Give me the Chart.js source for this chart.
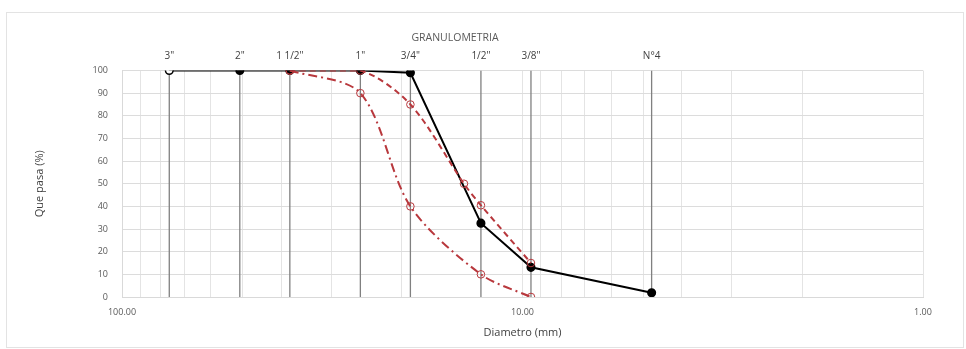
<!DOCTYPE html>
<html>
<head>
<meta charset="utf-8">
<script src="https://cdn.jsdelivr.net/npm/chart.js@4.4.1/dist/chart.umd.min.js"></script>
<style>
  html, body { margin: 0; padding: 0; background: #ffffff; }
  #wrap { position: relative; width: 966px; height: 349px; }
  #frame { position: absolute; left: 6px; top: 12px; width: 958px; height: 336px; border: 1px solid #e3e3e3; box-sizing: border-box; }
  canvas { position: absolute; left: 0; top: 0; }
</style>
</head>
<body>
<div id="wrap">
  <div id="frame"></div>
  <canvas id="c" width="966" height="349"></canvas>
</div>
<script>
// ---- data ----
const sieveLabels = ['3"', '2"', '1 1/2"', '1"', '3/4"', '1/2"', '3/8"', 'N°4'];
const sieveSizes  = [76.2, 50.8, 38.1, 25.4, 19.05, 12.7, 9.525, 4.76];
const muestraPasa = [100, 100, 100, 100, 99, 32.6, 13.1, 1.9];

const limSupSizes = [38.1, 25.4, 19.05, 14.0, 12.7, 9.525];
const limSupPasa  = [100, 100, 85, 50, 40.5, 15];

const limInfSizes = [38.1, 25.4, 19.05, 12.7, 9.525];
const limInfPasa  = [100, 90, 40, 10, 0];

const xTickValues = [1,2,3,4,5,6,7,8,9,10,20,30,40,50,60,70,80,90,100];
const xLabelValues = [1, 10, 100];
const yTicks = [0,10,20,30,40,50,60,70,80,90,100];

const titleText = 'GRANULOMETRIA';
const xTitle = 'Diametro (mm)';
const yTitle = 'Que pasa (%)';

// ---- chart ----
const RED = '#b8383d';
const pts = (xs, ys) => xs.map((x, i) => ({ x: x, y: ys[i] }));

const sieveDatasets = sieveSizes.map((s) => ({
  label: 'tamiz',
  data: [{ x: s, y: 0 }, { x: s, y: 100 }],
  borderColor: '#808080',
  borderWidth: 1.3,
  pointRadius: 0,
  order: 5
}));

const labelPlugin = {
  id: 'sieveLabels',
  afterDraw(chart) {
    const ctx = chart.ctx;
    const xs = chart.scales.x;
    ctx.save();
    ctx.font = '10px "Open Sans", Lato, sans-serif';
    ctx.fillStyle = '#404040';
    ctx.textAlign = 'center';
    ctx.textBaseline = 'middle';
    sieveSizes.forEach((s, i) => {
      ctx.fillText(sieveLabels[i], xs.getPixelForValue(s), 56);
    });
    ctx.font = '10.5px "Open Sans", Lato, sans-serif';
    ctx.fillStyle = '#595959';
    ctx.fillText(titleText, 455, 38);
    ctx.restore();
  }
};

new Chart(document.getElementById('c'), {
  type: 'line',
  data: {
    datasets: [
      {
        label: 'Límite inferior',
        data: pts(limInfSizes, limInfPasa),
        borderColor: RED,
        borderWidth: 2,
        borderDash: [9, 4, 2, 4],
        pointRadius: 3.8,
        pointBorderWidth: 1,
        pointBorderColor: RED,
        pointBackgroundColor: 'rgba(255,255,255,0)',
        tension: 0.3,
        order: 1
      },
      {
        label: 'Límite superior',
        data: pts(limSupSizes, limSupPasa),
        borderColor: RED,
        borderWidth: 2,
        borderDash: [6, 4],
        pointRadius: 3.8,
        pointBorderWidth: 1,
        pointBorderColor: RED,
        pointBackgroundColor: 'rgba(255,255,255,0)',
        tension: 0.3,
        order: 1
      },
      {
        label: 'Muestra',
        data: pts(sieveSizes, muestraPasa),
        borderColor: '#000000',
        borderWidth: 2,
        pointRadius: 3.8,
        pointBorderWidth: 1.5,
        pointBorderColor: '#000000',
        pointBackgroundColor: sieveSizes.map((s, i) => i === 0 ? '#ffffff' : '#000000'),
        tension: 0,
        order: 2
      },
      ...sieveDatasets
    ]
  },
  options: {
    responsive: false,
    animation: false,
    events: [],
    layout: { padding: { left: 29, right: 43, top: 70.5, bottom: 5 } },
    plugins: {
      legend: { display: false },
      tooltip: { enabled: false },
      title: { display: false }
    },
    scales: {
      x: {
        type: 'logarithmic',
        reverse: true,
        min: 1,
        max: 100,
        afterBuildTicks(scale) {
          scale.ticks = xTickValues.map(v => ({ value: v }));
        },
        afterFit(scale) { scale.height = 47; },
        ticks: {
          autoSkip: false,
          maxRotation: 0,
          padding: 10,
          color: '#595959',
          font: { size: 9, family: '"Open Sans", Lato, sans-serif' },
          callback: (v) => xLabelValues.includes(v) ? Number(v).toFixed(2) : ''
        },
        grid: { color: '#e4e4e4', lineWidth: 1, drawTicks: false },
        border: { color: '#d9d9d9' },
        title: {
          display: true,
          text: xTitle,
          color: '#404040',
          font: { size: 11, family: '"Open Sans", Lato, sans-serif' },
          padding: { top: 4, bottom: 5 }
        }
      },
      y: {
        min: 0,
        max: 100,
        afterBuildTicks(scale) {
          scale.ticks = yTicks.map(v => ({ value: v }));
        },
        afterFit(scale) { scale.width = 93; },
        ticks: {
          padding: 14,
          color: '#595959',
          font: { size: 9, family: '"Open Sans", Lato, sans-serif' }
        },
        grid: { color: '#dcdcdc', lineWidth: 1, drawTicks: false },
        border: { color: '#d9d9d9' },
        title: {
          display: true,
          text: yTitle,
          color: '#404040',
          font: { size: 11, family: '"Open Sans", Lato, sans-serif' },
          padding: { top: 4, bottom: 4 }
        }
      }
    }
  },
  plugins: [labelPlugin]
});
</script>
</body>
</html>
